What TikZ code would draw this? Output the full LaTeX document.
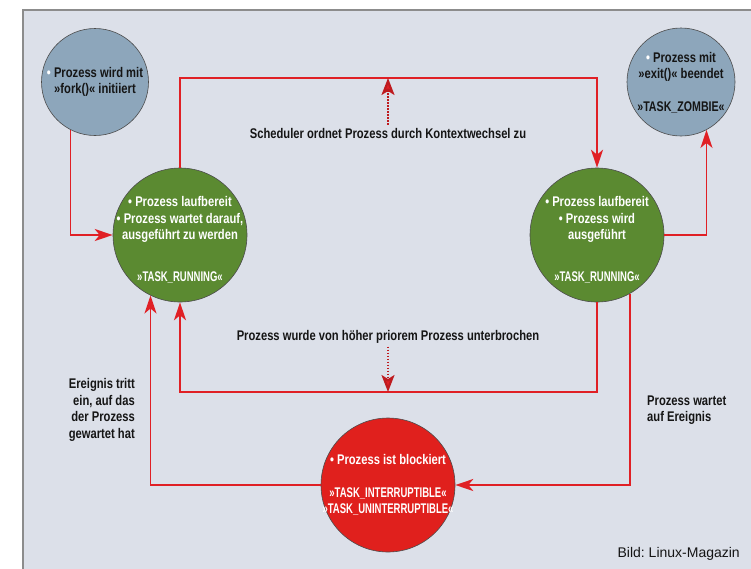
\documentclass[tikz,border=0pt]{standalone}
\usepackage{fontspec}
\setmainfont{Liberation Sans}
\newfontfamily\condfont[FakeStretch=0.8]{Liberation Sans}
\newfontfamily\taskfont[FakeStretch=0.68]{Liberation Sans}
\newfontfamily\zomfont[FakeStretch=0.76]{Liberation Sans}
\usetikzlibrary{arrows.meta}
\definecolor{bgc}{HTML}{DCE0E9}
\definecolor{framec}{HTML}{8C8C8C}
\definecolor{greyblue}{HTML}{8DA6BB}
\definecolor{greenc}{HTML}{5B8A31}
\definecolor{redc}{HTML}{E0201D}
\definecolor{linec}{HTML}{E02025}
\definecolor{txt}{HTML}{151515}
\tikzset{
  state/.style={circle, draw=black!70, line width=0.6pt, inner sep=0pt},
  stxt/.style={font=\condfont\bfseries\fontsize{14}{16.5}\selectfont, align=center, inner sep=0pt},
  lbl/.style={font=\condfont\bfseries\fontsize{14}{16.5}\selectfont, text=txt, inner sep=0pt},
  conn/.style={draw=linec, line width=1.8pt, -{Stealth[length=18pt,width=12pt,inset=5pt]}},
  dotarrow/.style={draw=linec!85!black, line width=2.2pt, dash pattern=on 1.5pt off 1.5pt, -{Stealth[length=17pt,width=13pt,inset=4pt,fill=linec]}}
}
\newcommand{\wb}{\textcolor{white}{\textbullet}}
\newcommand{\tk}[1]{{\taskfont\bfseries #1}}
\begin{document}
\begin{tikzpicture}[x=1pt,y=-1pt]
\useasboundingbox (0,0) rectangle (751,568);
\fill[white] (0,0) rectangle (751,568);
\begin{scope}
\clip (0,0) rectangle (751,568);
\filldraw[fill=bgc, draw=framec, line width=1.2pt] (23,10) rectangle (780,600);
\end{scope}

% states
\node[state, fill=greyblue, minimum size=107pt] (fork) at (95,82) {};
\node[state, fill=greyblue, minimum size=108pt] (zombie) at (681,82) {};
\node[state, fill=greenc, minimum size=134pt] (lgreen) at (180,235) {};
\node[state, fill=greenc, minimum size=134pt] (rgreen) at (597,235) {};
\node[state, fill=redc, minimum size=134pt] (red) at (388,485) {};

% state texts
\node[stxt, text=txt] (forkt) at (95,82) {\wb{} Prozess wird mit\\ »fork()« initiiert};
\node[stxt, text=txt] (zombiet) at (681,83) {\wb{} Prozess mit\\ »exit()« beendet\\[16.5pt] {\zomfont\bfseries »TASK\_ZOMBIE«}};
\node[stxt, text=white] (lgreent) at (180,240) {• Prozess laufbereit\\ • Prozess wartet darauf,\\ ausgeführt zu werden\\[25pt] \tk{»TASK\_RUNNING«}};
\node[stxt, text=white] (rgreent) at (597,240) {• Prozess laufbereit\\ • Prozess wird\\ ausgeführt\\[25pt] \tk{»TASK\_RUNNING«}};
\node[stxt, text=white] (redt) at (388,485) {• Prozess ist blockiert\\[16pt] \tk{»TASK\_INTERRUPTIBLE«}\\ \tk{»TASK\_UNINTERRUPTIBLE«}};

% labels
\node[lbl] (sched) at (388,133) {Scheduler ordnet Prozess durch Kontextwechsel zu};
\node[lbl] (interr) at (388,337) {Prozess wurde von höher priorem Prozess unterbrochen};
\node[lbl, anchor=east, align=right] (ereignis) at (135,410) {Ereignis tritt\\ ein, auf das\\ der Prozess\\ gewartet hat};
\node[lbl, anchor=west, align=left] (wartet) at (647,410) {Prozess wartet\\ auf Ereignis};
\node[font=\frenchspacing\fontsize{14}{16}\selectfont, text=txt, anchor=east, inner sep=0pt] (bild) at (740,554) {Bild: Linux-Magazin};

% helper coordinates
\coordinate (schedTop) at (388,78);
\coordinate (intBot) at (388,392);

% connectors
\draw[conn] (fork.243) |- (lgreen.west);
\draw[conn] (lgreen.north) |- (schedTop) -| (rgreen.north);
\draw[conn] (rgreen.east) -| (zombie.-62.4);
\draw[conn] (rgreen.south) |- (intBot) -| (lgreen.south);
\draw[conn] (rgreen.-61.5) |- (red.east);
\draw[conn] (red.west) -| (lgreen.-116.6);

% dotted arrows
\draw[dotarrow] ([yshift=3pt]sched.north) -- (schedTop);
\draw[dotarrow] ([yshift=-3pt]interr.south) -- (intBot);
\end{tikzpicture}
\end{document}
